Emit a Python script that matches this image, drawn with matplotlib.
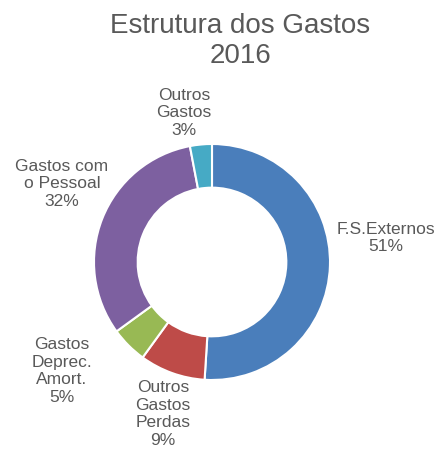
import matplotlib
matplotlib.use("Agg")
import matplotlib.pyplot as plt

# data
categories = ['F.S.Externos', 'Outros\nGastos\nPerdas', 'Gastos\nDeprec.\nAmort.',
              'Gastos com\no Pessoal', 'Outros\nGastos']
values = [51, 9, 5, 32, 3]
colors = ['#4a7ebb', '#be4b48', '#98b954', '#7d60a0', '#46aac5']

# label placement (pixel coords in the 441x451 image)
label_px = [(386, 238), (163, 414), (62, 371), (62, 184), (184, 113)]

W, H = 441, 451
cx, cy, r = 212, 262, 118

plt.rcParams['font.family'] = ['Liberation Sans', 'DejaVu Sans']
fig = plt.figure(figsize=(W / 100, H / 100), dpi=100)
ax = fig.add_axes([(cx - r) / W, (H - cy - r) / H, 2 * r / W, 2 * r / H])

ax.pie(values, colors=colors, startangle=90, counterclock=False, radius=1,
       wedgeprops=dict(width=0.37, edgecolor='white', linewidth=1.5))
ax.set_xlim(-1, 1)
ax.set_ylim(-1, 1)
ax.set_aspect('equal')
ax.axis('off')

total = sum(values)
for name, v, (px, py) in zip(categories, values, label_px):
    ax.text((px - cx) / r, (cy - py) / r, name + '\n' + str(round(100 * v / total)) + '%',
            ha='center', va='center', fontsize=12.5, color='#595959',
            linespacing=1.22, clip_on=False)

fig.text(240 / W, 1 - 41 / H, 'Estrutura dos Gastos\n2016', ha='center', va='center',
         fontsize=20, color='#595959', linespacing=1.2)

fig.savefig('out.png', dpi=100, facecolor='white')
